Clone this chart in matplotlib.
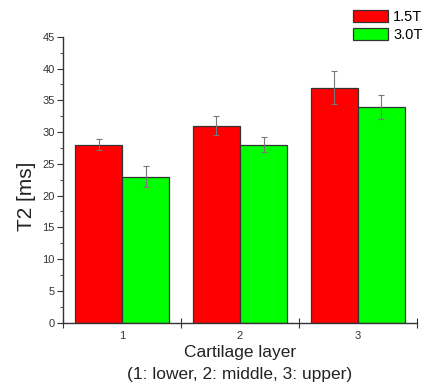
import matplotlib.pyplot as plt
import matplotlib.patches as mpatches
import numpy as np

plt.rcParams['font.family'] = ['Liberation Sans', 'DejaVu Sans']

layers = [1, 2, 3]
t15 = [28, 31, 37]
t15_err = [0.85, 1.5, 2.6]
t30 = [23, 28, 34]
t30_err = [1.6, 1.2, 1.9]
names = ['1.5T', '3.0T']
colors = ['#ff0000', '#00ff00']


def main():
    fig = plt.figure(figsize=(4.35, 3.83), dpi=100)
    ax = fig.add_axes([0.1455, 0.1575, 0.8125, 0.7465])
    x = np.array(layers)
    w = 0.4
    ekw = dict(ecolor='#777777', elinewidth=0.8, capsize=2.5, capthick=0.8)
    ax.bar(x - w / 2, t15, w, yerr=t15_err, color=colors[0],
           edgecolor='#333333', linewidth=0.9, error_kw=ekw)
    ax.bar(x + w / 2, t30, w, yerr=t30_err, color=colors[1],
           edgecolor='#333333', linewidth=0.9, error_kw=ekw)

    ax.set_xlim(0.5, 3.5)
    ax.set_ylim(0, 45)
    ax.spines['top'].set_visible(False)
    ax.spines['right'].set_visible(False)
    for s in ['left', 'bottom']:
        ax.spines[s].set_color('#333333')
        ax.spines[s].set_linewidth(1.0)

    ax.set_yticks(np.arange(0, 46, 5))
    ax.set_yticks(np.arange(0, 46, 2.5), minor=True)
    ax.tick_params(axis='y', which='major', length=4, labelsize=8,
                   colors='#333333', pad=2)
    ax.tick_params(axis='y', which='minor', length=2, color='#333333')

    ax.set_xticks([0.5, 1.5, 2.5, 3.5])
    ax.set_xticklabels([])
    ax.set_xticks(layers, minor=True)
    ax.set_xticklabels([str(v) for v in layers], minor=True)
    ax.tick_params(axis='x', which='major', direction='inout', length=7,
                   color='#333333')
    ax.tick_params(axis='x', which='minor', length=0, labelsize=8,
                   colors='#333333', pad=6)

    fig.text(240 / 435, 1 - 352 / 383, 'Cartilage layer', ha='center',
             va='center', fontsize=12.5, color='#222222')
    fig.text(240 / 435, 1 - 375 / 383, '(1: lower, 2: middle, 3: upper)',
             ha='center', va='center', fontsize=12.5, color='#222222')
    fig.text(27 / 435, 1 - 196 / 383, 'T2 [ms]', rotation=90, ha='center',
             va='center', fontsize=15, color='#222222')

    handles = [mpatches.Patch(facecolor=c, edgecolor='#333333', linewidth=0.9)
               for c in colors]
    fig.legend(handles, names, loc='upper left',
               bbox_to_anchor=(350 / 435, 1 - 7 / 383), frameon=False,
               fontsize=10.5, handlelength=2.4, handleheight=0.85,
               handletextpad=0.35, labelspacing=0.3, borderpad=0.2,
               borderaxespad=0)

    fig.savefig('out.png', dpi=100)


main()
